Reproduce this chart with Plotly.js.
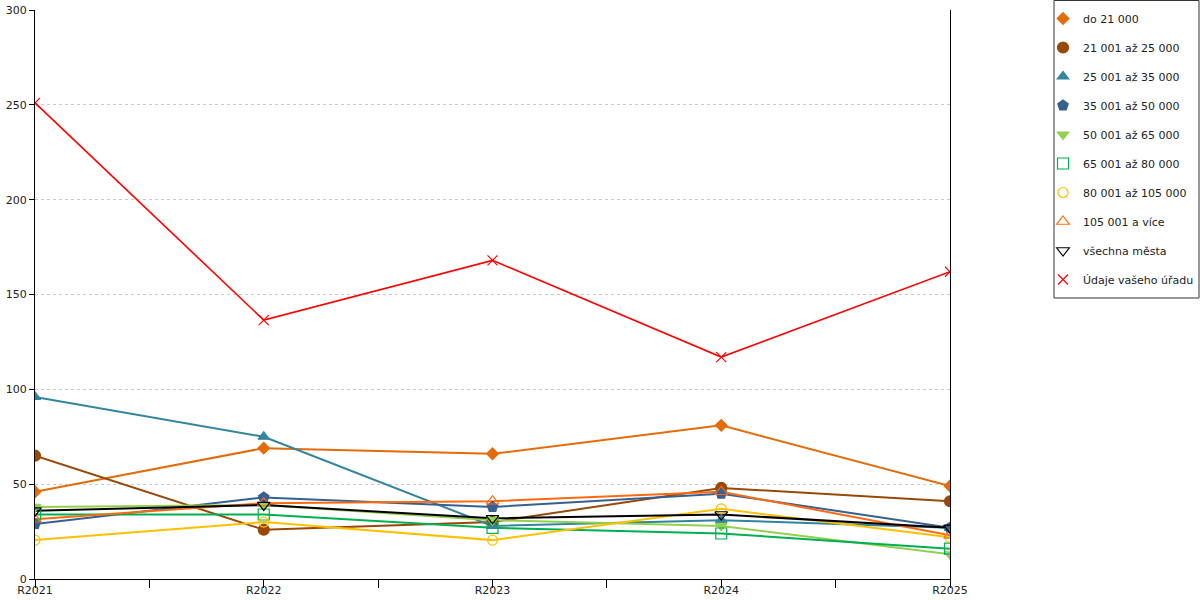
<!DOCTYPE html>
<html>
<head>
<meta charset="utf-8">
<script src="https://cdn.plot.ly/plotly-3.0.1.min.js"></script>
<style>
  html, body { margin: 0; padding: 0; background: #fff; }
  #chart { width: 1200px; height: 600px; }
</style>
</head>
<body>
<div id="chart"></div>
<script>
const YEARS = ["R2021", "R2022", "R2023", "R2024", "R2025"];

const DO_21000 = [46, 69, 66, 81, 49];
const R21_25 = [65, 26, 30, 48, 41];
const R25_35 = [96, 75, 28, 31, 27];
const R35_50 = [29, 43, 38, 45, 27];
const R50_65 = [38, 39, 31, 28, 13];
const R65_80 = [34, 34, 27, 24, 16];
const R80_105 = [20.5, 30, 20.5, 37, 22];
const R105_PLUS = [31.5, 40, 41, 46, 23];
const VSECHNA = [36, 39, 32, 34, 27];
const UDAJE = [251, 136.5, 168, 117, 162];

const SERIES = [
  { name: "do 21 000", y: DO_21000, color: "#E36C0A", symbol: "diamond", size: 9 },
  { name: "21 001 až 25 000", y: R21_25, color: "#984807", symbol: "circle", size: 11 },
  { name: "25 001 až 35 000", y: R25_35, color: "#31859C", symbol: "triangle-up", size: 10 },
  { name: "35 001 až 50 000", y: R35_50, color: "#376092", symbol: "pentagon", size: 11 },
  { name: "50 001 až 65 000", y: R50_65, color: "#92D050", symbol: "triangle-down", size: 10 },
  { name: "65 001 až 80 000", y: R65_80, color: "#00B050", symbol: "square-open", size: 11 },
  { name: "80 001 až 105 000", y: R80_105, color: "#FFC000", symbol: "circle-open", size: 10 },
  { name: "105 001 a více", y: R105_PLUS, color: "#FF6A10", symbol: "triangle-up-open", size: 11 },
  { name: "všechna města", y: VSECHNA, color: "#000000", symbol: "triangle-down-open", size: 11 },
  { name: "Údaje vašeho úřadu", y: UDAJE, color: "#FF0000", symbol: "x-thin-open", size: 10 },
];

const xIdx = YEARS.map((_, i) => i);
const tickVals = [];
const tickText = [];
YEARS.forEach((year, i) => {
  tickVals.push(i);
  tickText.push(year);
  if (i < YEARS.length - 1) {
    tickVals.push(i + 0.5);
    tickText.push("");
  }
});

const lineTraces = SERIES.map((s) => ({
  type: "scatter",
  mode: "lines",
  x: xIdx,
  y: s.y,
  line: { color: s.color, width: s.name === "Údaje vašeho úřadu" ? 1.6 : 2 },
  showlegend: false,
  hoverinfo: "skip",
}));

const markerTraces = SERIES.map((s, i) => ({
  type: "scatter",
  mode: "markers",
  name: s.name,
  legendgroup: "g" + i,
  x: xIdx,
  y: s.y,
  marker: {
    color: s.color,
    symbol: s.symbol,
    size: s.size,
    line: { color: s.color, width: 1.2 },
  },
}));

// legend frame drawn as a shape so the items can sit tighter to its left edge
const legendFrame = {
  type: "rect",
  xref: "paper",
  yref: "paper",
  x0: (1054 - 35) / 915,
  x1: (1199 - 35) / 915,
  y0: (579 - 298) / 569,
  y1: (579 - 0.5) / 569,
  line: { color: "#333", width: 1 },
  fillcolor: "#ffffff",
  layer: "below",
};

Plotly.newPlot(
  "chart",
  [...lineTraces, ...markerTraces],
  {
    width: 1200,
    height: 600,
    margin: { l: 35, r: 250, t: 10, b: 21, autoexpand: false },
    paper_bgcolor: "#ffffff",
    plot_bgcolor: "#ffffff",
    font: { family: "DejaVu Sans, sans-serif", size: 11, color: "#222" },
    shapes: [legendFrame],
    xaxis: {
      range: [0, YEARS.length - 1],
      tickvals: tickVals,
      ticktext: tickText,
      ticks: "outside",
      ticklen: 8,
      tickcolor: "#000",
      ticklabelstandoff: -7,
      showgrid: false,
      zeroline: false,
      showline: true,
      linecolor: "#000",
      linewidth: 1,
      fixedrange: true,
    },
    yaxis: {
      range: [0, 300],
      dtick: 50,
      ticks: "outside",
      ticklen: 5,
      tickcolor: "#000",
      showgrid: true,
      gridcolor: "#c8c8c8",
      griddash: "dot",
      zeroline: false,
      showline: true,
      mirror: true,
      linecolor: "#000",
      linewidth: 1,
      fixedrange: true,
    },
    showlegend: true,
    legend: {
      xref: "container",
      yref: "container",
      x: 1043 / 1200,
      y: 1 - 4 / 600,
      xanchor: "left",
      yanchor: "top",
      bgcolor: "rgba(0,0,0,0)",
      borderwidth: 0,
      traceorder: "grouped",
      tracegroupgap: 10,
      font: { size: 11, color: "#222" },
    },
  },
  { displayModeBar: false, staticPlot: true }
);
</script>
</body>
</html>
